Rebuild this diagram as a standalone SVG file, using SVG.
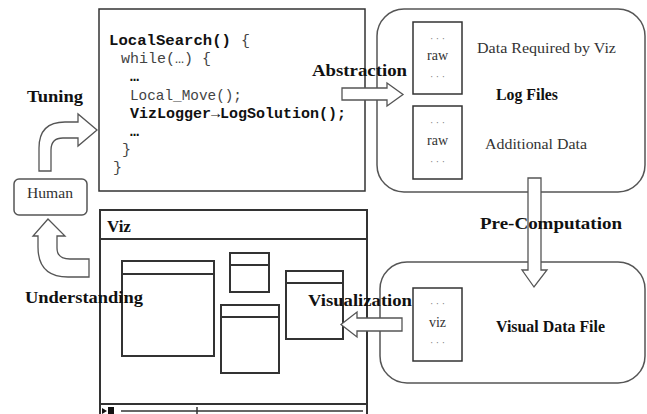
<svg xmlns="http://www.w3.org/2000/svg" width="647" height="414" viewBox="0 0 647 414">
<defs>
<style>
.box{fill:#fff;stroke:#333;stroke-width:1.5}
.rbox{fill:#fff;stroke:#555;stroke-width:1.5}
.win{fill:#fff;stroke:#333;stroke-width:2}
.arrow{fill:#fff;stroke:#555;stroke-width:1.3;stroke-linejoin:miter}
.code{font-family:"Liberation Mono","Courier New",monospace;font-size:15px;fill:#444}
.codeb{font-family:"Liberation Mono","Courier New",monospace;font-size:15px;font-weight:bold;fill:#111}
.lbl{font-family:"Liberation Serif","Times New Roman","DejaVu Serif",serif;font-size:17px;font-weight:bold;fill:#111}
.txt{font-family:"Liberation Serif","Times New Roman",serif;font-size:15px;fill:#333}
.small{font-family:"Liberation Serif","Times New Roman",serif;font-size:14px;fill:#333}
.dots{font-family:"Liberation Serif","Times New Roman",serif;font-size:10px;fill:#777}
</style>
</defs>
<rect width="647" height="414" fill="#fff"/>

<g id="code">
<rect class="box" x="99" y="9" width="266" height="182"/>
<text class="codeb" x="109" y="45" textLength="122" lengthAdjust="spacingAndGlyphs">LocalSearch()</text>
<text class="code" x="241" y="45">{</text>
<text class="code" x="121" y="63">while(…) {</text>
<text class="codeb" x="130" y="81">…</text>
<text class="code" x="130" y="100" textLength="112" lengthAdjust="spacingAndGlyphs">Local_Move();</text>
<text class="codeb" x="130" y="118" textLength="216" lengthAdjust="spacingAndGlyphs">VizLogger→LogSolution();</text>
<text class="codeb" x="130" y="136">…</text>
<text class="code" x="122" y="154">}</text>
<text class="code" x="113" y="172">}</text>
</g>

<g id="logfiles">
<rect class="rbox" x="377" y="9" width="268" height="183" rx="27" ry="27"/>
<rect class="box" x="413" y="22" width="49" height="72"/>
<text class="dots" x="437.5" y="42" text-anchor="middle">· · ·</text>
<text class="small" x="437.5" y="60" text-anchor="middle">raw</text>
<text class="dots" x="437.5" y="80" text-anchor="middle">· · ·</text>
<rect class="box" x="413" y="106" width="49" height="73"/>
<text class="dots" x="437.5" y="126" text-anchor="middle">· · ·</text>
<text class="small" x="437.5" y="145" text-anchor="middle">raw</text>
<text class="dots" x="437.5" y="165" text-anchor="middle">· · ·</text>
<text class="txt" x="477" y="53" textLength="139" lengthAdjust="spacingAndGlyphs">Data Required by Viz</text>
<text class="lbl" x="496" y="100" font-size="15" textLength="62" lengthAdjust="spacingAndGlyphs">Log Files</text>
<text class="txt" x="485" y="149" textLength="102" lengthAdjust="spacingAndGlyphs">Additional Data</text>
</g>

<g id="visualdata">
<rect class="rbox" x="380" y="262" width="265" height="121" rx="27" ry="27"/>
<rect class="box" x="413" y="288" width="49" height="73"/>
<text class="dots" x="437.5" y="307" text-anchor="middle">· · ·</text>
<text class="small" x="437.5" y="327" text-anchor="middle">viz</text>
<text class="dots" x="437.5" y="346" text-anchor="middle">· · ·</text>
<text class="lbl" x="496" y="332" font-size="15" textLength="109" lengthAdjust="spacingAndGlyphs">Visual Data File</text>
</g>

<g id="human">
<rect class="rbox" x="14" y="179" width="73" height="36" rx="5" ry="5"/>
<text class="small" x="50" y="198" text-anchor="middle" textLength="46" lengthAdjust="spacingAndGlyphs">Human</text>
</g>

<g id="viz">
<rect class="win" x="100" y="210" width="267" height="215"/>
<line x1="100" y1="239" x2="367" y2="239" stroke="#333" stroke-width="2"/>
<text class="lbl" x="107" y="232" font-size="16">Viz</text>
<rect class="win" x="122" y="261" width="92" height="95"/>
<line x1="122" y1="274" x2="214" y2="274" stroke="#333" stroke-width="2"/>
<rect class="win" x="230" y="253" width="39" height="39"/>
<line x1="230" y1="265" x2="269" y2="265" stroke="#333" stroke-width="2"/>
<rect class="win" x="221" y="305" width="58" height="68"/>
<line x1="221" y1="317" x2="279" y2="317" stroke="#333" stroke-width="2"/>
<rect class="win" x="286" y="271" width="57" height="68"/>
<line x1="286" y1="283" x2="343" y2="283" stroke="#333" stroke-width="2"/>
<line x1="100" y1="404" x2="367" y2="404" stroke="#333" stroke-width="2"/>
<path d="M102,408 L107,411 L102,414 Z" fill="#111"/>
<rect x="108" y="407" width="6" height="7" fill="#111"/>
<line x1="121" y1="411" x2="363" y2="411" stroke="#333" stroke-width="1.5"/>
<line x1="197" y1="407" x2="197" y2="414" stroke="#333" stroke-width="1.5"/>
</g>

<g id="connectors">
<path class="arrow" d="M342,88 L387,88 L387,83 L403,94.5 L387,106 L387,100 L342,100 Z"/>
<path class="arrow" d="M528,178 L541,178 L541,270 L547,270 L534,287 L522,270 L528,270 Z"/>
<path class="arrow" d="M402,318 L357,318 L357,312 L341,324.5 L357,337 L357,331 L402,331 Z"/>
<path class="arrow" d="M39,171 L39,148 Q39,122 65,122 L78,122 L78,114 L97,130 L78,146 L78,138 L63,138 Q51,138 51,150 L51,171 Z"/>
<path class="arrow" d="M38,236 L33,236 L48,219 L65,236 L57,236 L57,248 Q57,259 70,259 L89,259 L89,277 L68,277 Q38,277 38,247 Z"/>
</g>

<g id="labels">
<text class="lbl" x="27" y="102" textLength="56" lengthAdjust="spacingAndGlyphs">Tuning</text>
<text class="lbl" x="25" y="303" textLength="118" lengthAdjust="spacingAndGlyphs">Understanding</text>
<text class="lbl" x="312" y="76" textLength="95" lengthAdjust="spacingAndGlyphs">Abstraction</text>
<text class="lbl" x="308" y="306" textLength="104" lengthAdjust="spacingAndGlyphs">Visualization</text>
<text class="lbl" x="480" y="229" textLength="142" lengthAdjust="spacingAndGlyphs">Pre-Computation</text>
</g>
</svg>
